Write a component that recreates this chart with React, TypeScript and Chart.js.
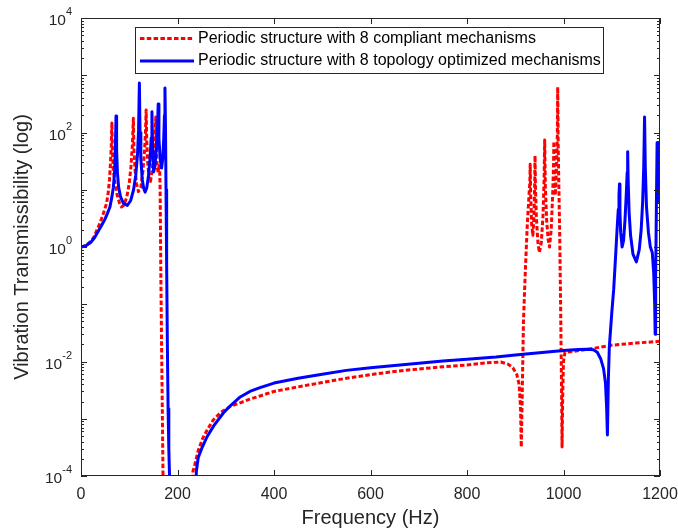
import React, { useEffect, useRef } from 'react';
import { Chart, registerables } from 'chart.js';

Chart.register(...registerables);

// ---- Data ----
const compliantFreq = [
  0, 10, 20, 26, 32, 40, 47, 53, 56.5, 59, 61, 62.8, 64, 65.2, 67, 70.5, 75, 80, 84, 89, 95, 100, 103.5, 106.5, 108.5, 109.8, 112, 115,
  119, 124, 128, 131.5, 133.8, 135, 136.3, 138.5, 141, 144, 147.5, 151, 153.5, 155, 156.3, 158, 160, 162, 163, 164, 165.5, 167, 168.5, 170, 172,
  228, 232, 236, 243, 252, 262, 274, 290, 310, 330, 350, 371, 400, 450, 500, 550, 600, 650, 700, 750, 800, 840, 870, 885, 895, 903, 908,
  911, 912.5, 914, 917, 921, 925, 928.5, 930.3, 931, 932, 934, 936.5, 938.5, 940, 941, 942, 944, 947, 950, 954, 957.5, 959.8, 961, 962.3,
  965, 968, 971, 974.5, 977.5, 979.3, 980, 981, 983, 985.5, 987.3, 988, 989, 990.5, 992, 994, 996, 997, 998.5,
  1000, 1003, 1020, 1050, 1100, 1150, 1200,
];
const compliantTrans = [
  1.0, 1.06, 1.25, 1.45, 1.9, 2.7, 4, 5.8, 9, 15, 28, 60, 147, 45, 22, 13, 8, 5.8, 5.0, 5.4, 7.5, 13, 25, 60, 178, 50, 22, 13,
  9.3, 11, 20, 45, 110, 247, 70, 28, 16, 14, 22, 45, 90, 186, 50, 25, 20, 28, 25, 10, 0.3, 0.02, 1.5e-3, 1e-4, 1e-6,
  1e-6, 1.2e-4, 1.6e-4, 2.8e-4, 4.5e-4, 6.5e-4, 9.5e-4, 1.3e-3, 1.65e-3, 1.9e-3, 2.2e-3, 2.5e-3, 3.0e-3, 3.6e-3, 4.3e-3, 5.1e-3, 5.9e-3, 6.7e-3, 7.4e-3, 8.1e-3, 8.7e-3, 9.5e-3, 9.8e-3, 9e-3, 7.8e-3, 6e-3, 4e-3,
  1.5e-3, 3.2e-4, 1.5e-3, 0.05, 0.4, 2.5, 8, 14, 28, 8, 2.5, 1.6, 3, 9, 39, 10, 3, 1.2, 0.8, 1.2, 3.5, 15, 74, 12,
  3, 1.4, 1.0, 2, 8, 25, 70, 15, 8, 25, 100, 620, 60, 10, 2, 0.1, 3e-3, 3.2e-4, 3e-3,
  0.01, 0.0145, 0.015, 0.0163, 0.0193, 0.021, 0.0225,
];

const optimizedFreq = [
  0, 10, 20, 28, 36, 44, 50, 55, 60, 64, 67, 69.5, 71.2, 72.6, 73.8, 75.5, 78, 82, 88, 96, 103, 109, 113.5, 117, 119.3, 121, 122.3, 124,
  127, 130, 133, 136.5, 140, 143, 145.5, 147, 148.3, 150.5, 153, 156, 158.5, 160, 161.5, 164, 167, 169.5, 171.5, 173, 174, 175, 176.2,
  177.5, 179, 180.5, 182, 183.5, 185,
  236, 239, 243, 250, 261, 275, 295, 310, 330, 350, 371, 400, 450, 500, 550, 600, 650, 700, 750, 800, 860, 900, 950, 1000, 1030, 1050,
  1062, 1070, 1077, 1083, 1087, 1089.5, 1091, 1093, 1095, 1100, 1104, 1108, 1111, 1113.5, 1115, 1116, 1117, 1118.5, 1121.5, 1124.5,
  1127.5, 1130, 1132, 1133, 1134, 1136, 1139, 1144, 1151, 1157, 1161, 1164, 1166.3, 1168, 1169.5, 1172, 1176, 1180, 1184, 1187, 1189,
  1190, 1191, 1192.5, 1194, 1195, 1196.5, 1198, 1200,
];
const optimizedTrans = [
  1.0, 1.05, 1.2, 1.45, 1.9, 2.5, 3.1, 3.9, 5, 7.5, 11, 20, 50, 195, 50, 20, 11, 7.5, 5.8, 5.3, 6.5, 10, 18, 40, 110, 730, 100, 35,
  15, 10.5, 9.1, 11, 18, 35, 80, 230, 60, 20.4, 25, 50, 110, 316, 80, 35, 24, 35, 80, 200, 600, 150, 10,
  0.5, 0.02, 1.5e-3, 3e-4, 1e-4, 1e-6,
  1e-6, 1.2e-4, 2.1e-4, 3e-4, 4.8e-4, 7.5e-4, 1.26e-3, 1.7e-3, 2.4e-3, 3.0e-3, 3.5e-3, 4.2e-3, 5.1e-3, 6.0e-3, 7.0e-3, 7.8e-3, 8.5e-3, 9.3e-3, 1.02e-2, 1.1e-2, 1.2e-2, 1.3e-2, 1.42e-2, 1.55e-2, 1.62e-2, 1.64e-2,
  1.6e-2, 1.45e-2, 1.12e-2, 7.5e-3, 4.2e-3, 1.5e-3, 5.2e-4, 5e-3, 0.018, 0.07, 0.18, 0.7, 2, 4.5, 8, 12.6, 4, 1.8, 1.0, 1.3,
  3, 8, 20, 46, 15, 4, 1.6, 0.75, 0.55, 0.9, 2, 6, 25, 186, 25, 5, 1.8, 1.0, 0.8, 0.35, 0.1,
  0.03, 0.3, 5, 66, 12, 6, 18, 10,
];

const seriesLabels = [
  'Periodic structure with 8 compliant mechanisms',
  'Periodic structure with 8 topology optimized mechanisms',
];
const xTickValues = [0, 200, 400, 600, 800, 1000, 1200];
const yLabelExponents = [-4, -2, 0, 2, 4];
const xTitle = 'Frequency (Hz)';
const yTitle = 'Vibration Transmissibility (log)';

// ---- Styles ----
const FAMILY = '"Liberation Sans", Arial, Helvetica, sans-serif';
const AXIS_COLOR = '#262626';
const RED = '#ff0000';
const BLUE = '#0000ff';
const RED_DASH = [4.5, 2.3];

const matlabAxes = {
  id: 'matlabAxes',
  afterDatasetsDraw(chart: any) {
    const { ctx, chartArea, scales } = chart;
    const { left, right, top, bottom } = chartArea;
    const x = scales.x;
    const y = scales.y;
    ctx.save();
    ctx.strokeStyle = AXIS_COLOR;
    ctx.lineWidth = 1;
    ctx.setLineDash([]);
    ctx.beginPath();
    for (const v of xTickValues) {
      const px = Math.round(x.getPixelForValue(v)) + 0.5;
      ctx.moveTo(px, bottom);
      ctx.lineTo(px, bottom - 6);
      ctx.moveTo(px, top);
      ctx.lineTo(px, top + 6);
    }
    for (let e = -4; e <= 4; e++) {
      for (let m = 1; m <= 9; m++) {
        const v = m * Math.pow(10, e);
        if (v > 1e4 * 1.0001) break;
        const py = Math.round(y.getPixelForValue(v)) + 0.5;
        const len = m === 1 ? 6 : 3;
        ctx.moveTo(left, py);
        ctx.lineTo(left + len, py);
        ctx.moveTo(right, py);
        ctx.lineTo(right - len, py);
      }
    }
    ctx.stroke();
    ctx.strokeRect(Math.round(left) + 0.5, Math.round(top) + 0.5, Math.round(right - left) - 1, Math.round(bottom - top) - 1);

    // Legend box
    const lx = 135.5, ly = 27.5, lw = 468, lh = 46;
    ctx.fillStyle = '#ffffff';
    ctx.fillRect(lx, ly, lw, lh);
    ctx.strokeStyle = AXIS_COLOR;
    ctx.lineWidth = 1;
    ctx.strokeRect(lx, ly, lw, lh);
    const rows = [
      { label: seriesLabels[0], color: RED, dash: RED_DASH, yy: 38.5 },
      { label: seriesLabels[1], color: BLUE, dash: [] as number[], yy: 61 },
    ];
    for (const r of rows) {
      ctx.beginPath();
      ctx.strokeStyle = r.color;
      ctx.lineWidth = 3;
      ctx.setLineDash(r.dash);
      ctx.moveTo(140, r.yy);
      ctx.lineTo(194, r.yy);
      ctx.stroke();
      ctx.setLineDash([]);
      ctx.fillStyle = '#000000';
      ctx.font = `16px ${FAMILY}`;
      ctx.textAlign = 'left';
      ctx.textBaseline = 'middle';
      ctx.fillText(r.label, 198, r.yy);
    }
    ctx.restore();
  },
  afterDraw(chart: any) {
    const { ctx, scales } = chart;
    const y = scales.y;
    ctx.save();
    ctx.fillStyle = AXIS_COLOR;
    ctx.textBaseline = 'middle';
    const rightEdge = 72;
    for (const e of yLabelExponents) {
      const py = y.getPixelForValue(Math.pow(10, e));
      const expText = String(e);
      ctx.font = `11px ${FAMILY}`;
      const ew = ctx.measureText(expText).width;
      const ex = rightEdge - ew;
      ctx.textAlign = 'left';
      ctx.fillText(expText, ex, py - 6);
      ctx.font = `15.5px ${FAMILY}`;
      ctx.textAlign = 'right';
      ctx.fillText('10', ex, py + 3);
    }
    ctx.restore();
  },
};

export default function App() {
  const ref = useRef<HTMLCanvasElement>(null);
  useEffect(() => {
    const canvas = ref.current;
    if (!canvas) return;
    const toPoints = (xs: number[], ys: number[]) => xs.map((xv, i) => ({ x: xv, y: ys[i] }));
    const chart = new Chart(canvas, {
      type: 'line',
      data: {
        datasets: [
          {
            label: seriesLabels[0],
            data: toPoints(compliantFreq, compliantTrans),
            borderColor: RED,
            backgroundColor: RED,
            borderWidth: 3,
            borderDash: RED_DASH,
            borderJoinStyle: 'round',
            pointRadius: 0,
            tension: 0,
            fill: false,
            order: 1,
            clip: 0,
          } as any,
          {
            label: seriesLabels[1],
            data: toPoints(optimizedFreq, optimizedTrans),
            borderColor: BLUE,
            backgroundColor: BLUE,
            borderWidth: 3,
            borderJoinStyle: 'round',
            pointRadius: 0,
            tension: 0,
            fill: false,
            order: 0,
            clip: 0,
          } as any,
        ],
      },
      options: {
        responsive: false,
        animation: false,
        devicePixelRatio: 1,
        events: [],
        layout: { padding: { top: 18, right: 18, left: 0, bottom: 0 } },
        plugins: { legend: { display: false }, tooltip: { enabled: false } },
        scales: {
          x: {
            type: 'linear',
            min: 0,
            max: 1200,
            afterBuildTicks: (s: any) => {
              s.ticks = xTickValues.map((v) => ({ value: v }));
            },
            ticks: {
              font: { family: FAMILY, size: 16 },
              color: AXIS_COLOR,
              padding: 1,
              maxRotation: 0,
              autoSkip: false,
              callback: (v: any) => String(v),
            },
            grid: { display: false },
            border: { display: false },
            title: {
              display: true,
              text: xTitle,
              font: { family: FAMILY, size: 20 },
              color: AXIS_COLOR,
              padding: { top: 0, bottom: 2 },
            },
            afterFit: (s: any) => {
              s.height = 56;
              s.paddingLeft = 0;
              s.paddingRight = 0;
            },
          },
          y: {
            type: 'logarithmic',
            min: 1e-4,
            max: 1e4,
            ticks: { display: false },
            grid: { display: false },
            border: { display: false },
            title: {
              display: true,
              text: yTitle,
              font: { family: FAMILY, size: 20 },
              color: AXIS_COLOR,
              padding: { top: 10, bottom: 0 },
            },
            afterFit: (s: any) => {
              s.width = 81;
              s.paddingTop = 0;
              s.paddingBottom = 0;
            },
          },
        },
      } as any,
      plugins: [matlabAxes],
    });
    return () => chart.destroy();
  }, []);
  return (
    <div style={{ position: 'absolute', left: 0, top: 0, width: 678, height: 532, background: '#ffffff' }}>
      <canvas ref={ref} width={678} height={532} style={{ display: 'block', width: 678, height: 532 }} />
    </div>
  );
}
